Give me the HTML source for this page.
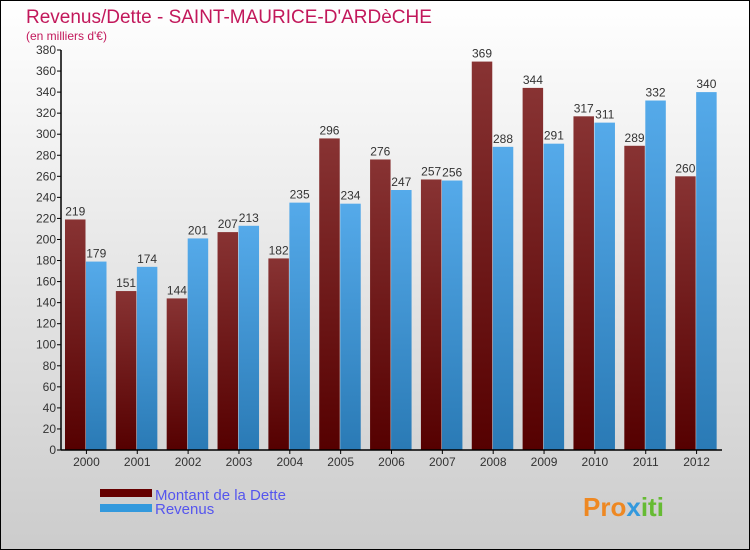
<!DOCTYPE html>
<html><head><meta charset="utf-8"><style>
body{margin:0}
svg{display:block;font-family:"Liberation Sans",sans-serif}
</style></head><body>
<svg id="c" width="750" height="550">
<defs>
<linearGradient id="bg" x1="0" y1="0" x2="0" y2="1"><stop offset="0" stop-color="#ffffff"/><stop offset="1" stop-color="#cccccc"/></linearGradient>
<linearGradient id="gd" x1="0" y1="0" x2="0" y2="1"><stop offset="0" stop-color="#883333"/><stop offset="1" stop-color="#550000"/></linearGradient>
<linearGradient id="gr" x1="0" y1="0" x2="0" y2="1"><stop offset="0" stop-color="#55aaea"/><stop offset="1" stop-color="#2a7ab5"/></linearGradient>
</defs>
<rect x="0.5" y="0.5" width="749" height="549" fill="url(#bg)" stroke="#000"/>
<text x="26" y="23" font-size="19" fill="#c2185b">Revenus/Dette - SAINT-MAURICE-D'ARDèCHE</text>
<text x="26" y="40" font-size="12" fill="#c2185b">(en milliers d'€)</text>
<g id="plot"></g>
<rect x="100" y="489" width="52" height="8" fill="#660000"/>
<rect x="100" y="504" width="52" height="8" fill="#3399dd"/>
<text x="155" y="500" font-size="15" fill="#5555ee">Montant de la Dette</text>
<text x="155" y="514" font-size="15" fill="#5555ee">Revenus</text>
<text x="583" y="516" font-size="26" font-weight="bold" fill="#ee8822">Pro<tspan fill="#3399dd">x</tspan><tspan fill="#66bb33">iti</tspan></text>
</svg>
<script>
const years=["2000","2001","2002","2003","2004","2005","2006","2007","2008","2009","2010","2011","2012"];
const dette=[219,151,144,207,182,296,276,257,369,344,317,289,260];
const revenus=[179,174,201,213,235,234,247,256,288,291,311,332,340];
const ticks=[0,20,40,60,80,100,120,140,160,180,200,220,240,260,280,300,320,340,360,380];
const NS="http://www.w3.org/2000/svg";
const g=document.getElementById('plot');
const x0=61,x1=722,y0=450,yTop=50,maxV=380;
const y=v=>y0-(v/maxV)*(y0-yTop);
const gw=(x1-x0)/years.length;
function el(t,a){const e=document.createElementNS(NS,t);for(const k in a)e.setAttribute(k,a[k]);g.appendChild(e);return e;}
ticks.forEach(t=>{
  const l=el('line',{x1:x0-4,x2:x0,y1:y(t),y2:y(t),stroke:'#000'});
  
  
  const tx=el('text',{x:x0-5,y:y(t)+4,'font-size':12,'text-anchor':'end',fill:'#333'});
  tx.textContent=t;
  
  
});
years.forEach((yr,i)=>{
  const gx=x0+i*gw;
  const bw=20.5;
  const bx1=gx+4, bx2=gx+4+bw+0.5;
  const r1=el('rect',{x:bx1,y:y(dette[i]),width:bw,height:y0-y(dette[i]),fill:'url(#gd)'});
  
  
  const r2=el('rect',{x:bx2,y:y(revenus[i]),width:bw,height:y0-y(revenus[i]),fill:'url(#gr)'});
  
  
  const t1=el('text',{x:bx1+bw/2,y:y(dette[i])-4,'font-size':12,'text-anchor':'middle',fill:'#333'});
  t1.textContent=dette[i];
  
  
  const t2=el('text',{x:bx2+bw/2,y:y(revenus[i])-4,'font-size':12,'text-anchor':'middle',fill:'#333'});
  t2.textContent=revenus[i];
  
  
  const tl=el('line',{x1:gx+gw/2,x2:gx+gw/2,y1:y0,y2:y0+4,stroke:'#000'});
  
  
  const xl=el('text',{x:gx+gw/2,y:y0+16,'font-size':12,'text-anchor':'middle',fill:'#333'});
  xl.textContent=yr;
  
  
});
const ya=el('line',{x1:x0,x2:x0,y1:yTop,y2:y0,stroke:'#000','stroke-width':1.5});


const xa=el('line',{x1:x0,x2:x1,y1:y0,y2:y0,stroke:'#000','stroke-width':1.5});


</script>
</body></html>
